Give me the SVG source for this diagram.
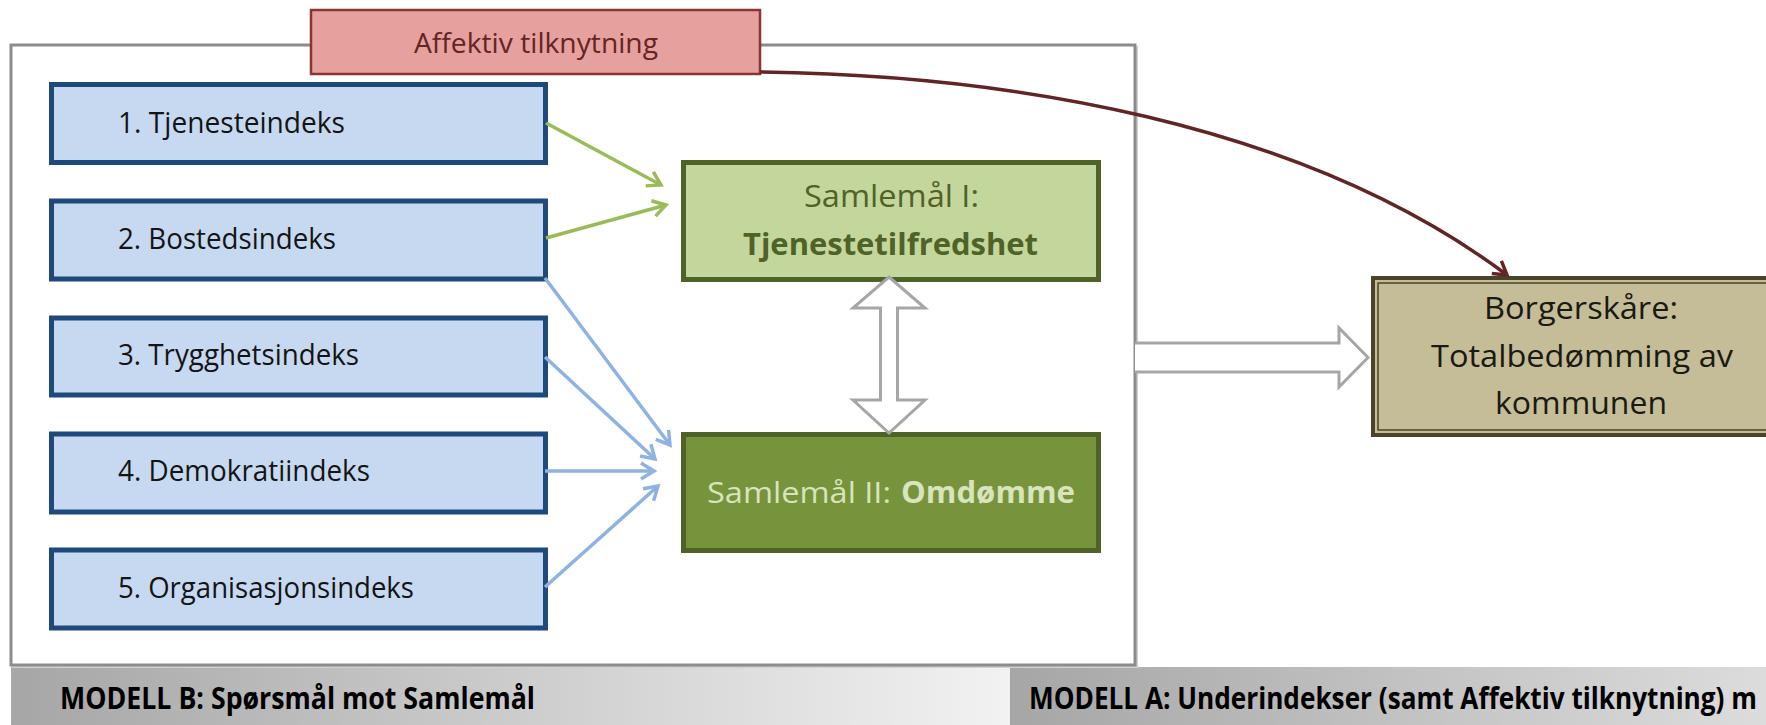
<svg xmlns="http://www.w3.org/2000/svg" width="1766" height="725" viewBox="0 0 1766 725">
<defs>
<style>
text{font-family:"Open Sans","Noto Sans","Liberation Sans",sans-serif;}
.idx rect{fill:#C6D9F1;stroke:#1F497D;stroke-width:5;}
.idx text{font-size:29px;fill:#141414;}
.conn line,.conn path{fill:none;stroke-width:3.5;}
.g{stroke:#9BBB59;}
.b{stroke:#8DB3E2;}
.hollow{fill:#fff;stroke:#A6A6A6;stroke-width:3;}
.band{font-size:30px;font-weight:bold;fill:#000;}
</style>
<marker id="mg" markerWidth="20" markerHeight="20" refX="15" refY="10" orient="auto" markerUnits="userSpaceOnUse"><path d="M2,2 L15,10 L2,18" fill="none" stroke="#9BBB59" stroke-width="3.5"/></marker>
<marker id="mb" markerWidth="20" markerHeight="20" refX="15" refY="10" orient="auto" markerUnits="userSpaceOnUse"><path d="M2,2 L15,10 L2,18" fill="none" stroke="#8DB3E2" stroke-width="3.5"/></marker>
<marker id="mr" markerWidth="20" markerHeight="20" refX="15" refY="10" orient="auto" markerUnits="userSpaceOnUse"><path d="M2,2 L15,10 L2,18" fill="none" stroke="#632523" stroke-width="3.5"/></marker>
<linearGradient id="gl" x1="0" y1="0" x2="1" y2="0"><stop offset="0" stop-color="#A6A6A6"/><stop offset="1" stop-color="#F2F2F2"/></linearGradient>
<linearGradient id="gr" x1="0" y1="0" x2="1" y2="0"><stop offset="0" stop-color="#A6A6A6"/><stop offset="1" stop-color="#DCDCDC"/></linearGradient>
</defs>
<rect x="0" y="0" width="1766" height="725" fill="#fff"/>

<g id="band-b">
<rect x="11" y="667" width="999" height="58" fill="url(#gl)"/>
<text class="band" x="60" y="709" textLength="475" lengthAdjust="spacingAndGlyphs">MODELL B: Spørsmål mot Samlemål</text>
</g>
<g id="band-a">
<rect x="1010" y="667" width="756" height="58" fill="url(#gr)"/>
<text class="band" x="1029" y="709" textLength="728" lengthAdjust="spacingAndGlyphs">MODELL A: Underindekser (samt Affektiv tilknytning) m</text>
</g>

<g id="frame">
<rect x="13" y="47" width="1124" height="620" fill="none" stroke="#D0D0D0" stroke-width="2"/>
<rect x="11" y="45" width="1124" height="620" fill="#fff" stroke="#8C8C8C" stroke-width="3"/>
</g>

<g id="affektiv">
<rect x="311" y="10" width="449" height="64" fill="#E6A09E" stroke="#8C3432" stroke-width="2.5"/>
<text x="414" y="53" font-size="28" fill="#632523" textLength="244" lengthAdjust="spacingAndGlyphs">Affektiv tilknytning</text>
</g>

<g id="idx1" class="idx"><rect x="51.5" y="84.5" width="494" height="78"/><text x="118" y="133" textLength="227" lengthAdjust="spacingAndGlyphs">1. Tjenesteindeks</text></g>
<g id="idx2" class="idx"><rect x="51.5" y="201" width="494" height="78"/><text x="118" y="249" textLength="218" lengthAdjust="spacingAndGlyphs">2. Bostedsindeks</text></g>
<g id="idx3" class="idx"><rect x="51.5" y="318" width="494" height="77"/><text x="118" y="365" textLength="241" lengthAdjust="spacingAndGlyphs">3. Trygghetsindeks</text></g>
<g id="idx4" class="idx"><rect x="51.5" y="434" width="494" height="78"/><text x="118" y="481" textLength="252" lengthAdjust="spacingAndGlyphs">4. Demokratiindeks</text></g>
<g id="idx5" class="idx"><rect x="51.5" y="550" width="494" height="78"/><text x="118" y="598" textLength="296" lengthAdjust="spacingAndGlyphs">5. Organisasjonsindeks</text></g>

<g id="samlemaal1">
<rect x="683.5" y="162.5" width="415" height="117" fill="#C3D69B" stroke="#4F6228" stroke-width="5"/>
<text x="804" y="207" font-size="31" fill="#4F6228" textLength="175" lengthAdjust="spacingAndGlyphs">Samlemål I:</text>
<text x="743" y="255" font-size="31" font-weight="bold" fill="#4F6228" textLength="295" lengthAdjust="spacingAndGlyphs">Tjenestetilfredshet</text>
</g>

<g id="samlemaal2">
<rect x="683.5" y="434.5" width="415" height="116" fill="#77933C" stroke="#4F6228" stroke-width="5"/>
<text x="707" y="503" font-size="30" fill="#D7E4BD" textLength="184" lengthAdjust="spacingAndGlyphs">Samlemål II:</text>
<text x="901" y="503" font-size="30" font-weight="bold" fill="#D7E4BD" textLength="174" lengthAdjust="spacingAndGlyphs">Omdømme</text>
</g>

<g id="borgerskaare">
<rect x="1373" y="278" width="420" height="157" fill="#C4BD97" stroke="#494429" stroke-width="4"/>
<rect x="1378" y="283" width="410" height="147" fill="none" stroke="#494429" stroke-width="1.5"/>
<text x="1484" y="319" font-size="31" fill="#1A1A12" textLength="194" lengthAdjust="spacingAndGlyphs">Borgerskåre:</text>
<text x="1431" y="367" font-size="31" fill="#1A1A12" textLength="302" lengthAdjust="spacingAndGlyphs">Totalbedømming av</text>
<text x="1495" y="414" font-size="31" fill="#1A1A12" textLength="172" lengthAdjust="spacingAndGlyphs">kommunen</text>
</g>

<g id="connectors" class="conn">
<line class="g" x1="546" y1="123" x2="661" y2="185" marker-end="url(#mg)"/>
<line class="g" x1="546" y1="238" x2="666" y2="205" marker-end="url(#mg)"/>
<line class="b" x1="545" y1="278" x2="670" y2="445" marker-end="url(#mb)"/>
<line class="b" x1="545" y1="357" x2="655" y2="459" marker-end="url(#mb)"/>
<line class="b" x1="545" y1="471" x2="654" y2="471" marker-end="url(#mb)"/>
<line class="b" x1="545" y1="587" x2="658" y2="486" marker-end="url(#mb)"/>
<path d="M760,72 C1000,75 1300,120 1507,275" stroke="#632523" marker-end="url(#mr)"/>
<polygon class="hollow" points="889,277 925,308 897.5,308 897.5,400 925,400 889,433 853,400 880.5,400 880.5,308 853,308"/>
<polyline class="hollow" points="1135,343 1339,343 1339,328 1368,357.5 1339,387 1339,372 1135,372"/>
</g>
</svg>
